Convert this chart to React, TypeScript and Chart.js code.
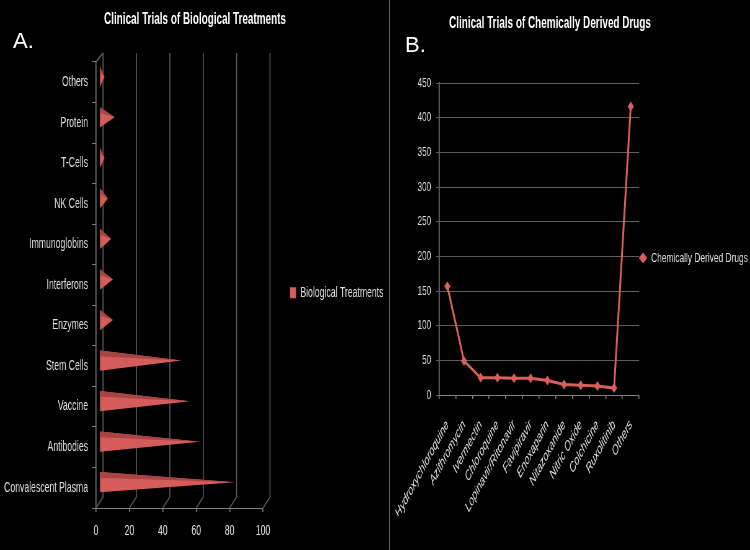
import React, { useEffect, useRef } from 'react';
import { Chart, registerables } from 'chart.js';

Chart.register(...registerables);

// ---------- data ----------
const bioCategories = [
  'Convalescent Plasma',
  'Antibodies',
  'Vaccine',
  'Stem Cells',
  'Enzymes',
  'Interferons',
  'Immunoglobins',
  'NK Cells',
  'T-Cells',
  'Protein',
  'Others',
];
const bioValues = [81, 60, 54, 49, 8, 8, 7, 5, 3, 9, 3];
const bioTicks = [0, 20, 40, 60, 80, 100];

const drugCategories = [
  'Hydroxychloroquine',
  'Azithromycin',
  'Ivermectin',
  'Chloroquine',
  'Lopinavir/Ritonavir',
  'Favipiravir',
  'Enoxaparin',
  'Nitazoxanide',
  'Nitric Oxide',
  'Colchicine',
  'Ruxolitinib',
  'Others',
];
const drugValues = [157, 49, 25, 25, 24, 24, 21, 15, 14, 13, 10, 416];
const drugTicks = [0, 50, 100, 150, 200, 250, 300, 350, 400, 450];

// ---------- style ----------
// The original figure is horizontally compressed; each canvas is drawn wider
// internally and displayed at SQ of its width.
const SQ = 0.62;
const h = (pagePx: number) => pagePx / SQ; // page px -> internal px (horizontal)

const FONT = "'Liberation Sans', Arial, sans-serif";
const TEXT = '#e0e0e0';
const AXIS = '#808080';
const GRID = '#5e5e5e';
const CONE_LIGHT = '#d65c5c';
const CONE_DARK = '#a84444';
const LINE = '#d95f5b';
const VLW = 1.6; // vertical line width (internal) ~ 1 page px
const DX = h(7);
const DY = 11;
const TOPY = 9;

const LEFT_W = 390;
const RIGHT_LEFT = 350;
const RIGHT_W = 400;

const legendWidthPlugin = {
  id: 'legendWidth',
  beforeLayout(chart: any, _args: any, opts: any) {
    const lg = chart.legend;
    if (!lg || lg.__fixedWidth || !opts || !opts.width) return;
    const fit = lg.fit.bind(lg);
    lg.fit = () => {
      fit();
      lg.width = opts.width;
    };
    lg.__fixedWidth = true;
  },
};

const wallPlugin = {
  id: 'wall3d',
  beforeDatasetsDraw(chart: any) {
    const { ctx, chartArea } = chart;
    const { top, bottom } = chartArea;
    const xs = chart.scales.x;
    ctx.save();
    ctx.strokeStyle = GRID;
    ctx.lineWidth = VLW;
    xs.ticks.forEach((t: any) => {
      const px = xs.getPixelForValue(t.value);
      ctx.beginPath();
      ctx.moveTo(px + DX, top - TOPY);
      ctx.lineTo(px + DX, bottom - DY);
      ctx.lineTo(px, bottom);
      ctx.stroke();
    });
    const p0 = xs.getPixelForValue(xs.min);
    ctx.beginPath();
    ctx.moveTo(p0, top);
    ctx.lineTo(p0 + DX, top - TOPY);
    ctx.stroke();
    ctx.restore();
  },
};

const conePlugin = {
  id: 'cones',
  beforeDatasetDraw(chart: any, args: any) {
    const ctx = chart.ctx;
    ctx.save();
    args.meta.data.forEach((el: any) => {
      const { x, y, base, height } = el.getProps(['x', 'y', 'base', 'height'], true);
      const bh = Math.abs(height);
      const bx = base + DX / 2;
      const tx = x + DX / 2;
      const cy = y - DY / 2;
      ctx.beginPath();
      ctx.moveTo(bx, cy - bh / 2);
      ctx.lineTo(tx, cy);
      ctx.lineTo(bx, cy + bh / 2);
      ctx.closePath();
      ctx.fillStyle = CONE_LIGHT;
      ctx.fill();
      ctx.beginPath();
      ctx.moveTo(bx, cy - bh / 2);
      ctx.lineTo(tx, cy);
      ctx.lineTo(bx, cy - bh / 2 + bh * 0.28);
      ctx.closePath();
      ctx.fillStyle = CONE_DARK;
      ctx.fill();
    });
    ctx.restore();
    return false;
  },
};

function BioChart() {
  const ref = useRef<HTMLCanvasElement | null>(null);
  const W = Math.round(h(LEFT_W));
  useEffect(() => {
    if (!ref.current) return;
    const areaLeft = h(96);
    const areaRight = h(263);
    const chart = new Chart(ref.current, {
      type: 'bar',
      data: {
        labels: bioCategories,
        datasets: [
          {
            label: 'Biological Treatments',
            data: bioValues,
            backgroundColor: CONE_LIGHT,
            borderWidth: 0,
            barPercentage: 0.5,
            categoryPercentage: 1,
          },
        ],
      },
      options: {
        responsive: false,
        animation: false,
        indexAxis: 'y',
        layout: { padding: 0 },
        plugins: {
          legendWidth: { width: W - areaRight },
          title: {
            display: true,
            text: 'Clinical Trials of Biological Treatments',
            color: '#ffffff',
            font: { family: FONT, size: 16, weight: 'bold' },
            padding: { top: 10, bottom: 32.8 },
          },
          legend: {
            position: 'right',
            fullSize: false,
            title: { display: true, text: '', padding: 0, font: { size: 13 } },
            labels: {
              color: TEXT,
              font: { family: FONT, size: 14 },
              boxWidth: h(6),
              boxHeight: 11,
              padding: h(290 - 263),
            },
          },
          tooltip: { enabled: false },
        },
        scales: {
          x: {
            type: 'linear',
            min: bioTicks[0],
            max: bioTicks[bioTicks.length - 1],
            ticks: {
              stepSize: bioTicks[1] - bioTicks[0],
              color: TEXT,
              font: { family: FONT, size: 14 },
              padding: 11,
            },
            grid: { drawOnChartArea: false, tickLength: 4, color: AXIS, lineWidth: VLW },
            border: { color: AXIS },
            afterFit: (s: any) => {
              s.height = 42;
            },
          },
          y: {
            reverse: true,
            ticks: { color: TEXT, font: { family: FONT, size: 14 }, padding: h(4) },
            grid: { drawOnChartArea: false, tickLength: h(4), color: AXIS },
            border: { color: AXIS, width: VLW },
            afterFit: (s: any) => {
              s.width = areaLeft;
            },
          },
        },
      },
      plugins: [legendWidthPlugin, wallPlugin, conePlugin],
    } as any);
    return () => chart.destroy();
  }, []);
  return (
    <canvas
      ref={ref}
      width={W}
      height={550}
      style={{ position: 'absolute', left: 0, top: 0, width: LEFT_W, height: 550 }}
    />
  );
}

function DrugChart() {
  const ref = useRef<HTMLCanvasElement | null>(null);
  const W = Math.round(h(RIGHT_W));
  useEffect(() => {
    if (!ref.current) return;
    const areaLeft = h(439 - RIGHT_LEFT);
    const areaRight = h(639 - RIGHT_LEFT);
    const chart = new Chart(ref.current, {
      type: 'line',
      data: {
        labels: drugCategories,
        datasets: [
          {
            label: 'Chemically Derived Drugs',
            data: drugValues,
            borderColor: LINE,
            backgroundColor: LINE,
            borderWidth: 3,
            pointStyle: 'rectRot',
            pointRadius: 4.5,
            pointBorderWidth: 1,
            tension: 0,
          },
        ],
      },
      options: {
        responsive: false,
        animation: false,
        layout: { padding: { top: 0, bottom: 34, left: 0, right: 0 } },
        plugins: {
          legendWidth: { width: W - areaRight },
          title: {
            display: true,
            text: 'Clinical Trials of Chemically Derived Drugs',
            color: '#ffffff',
            font: { family: FONT, size: 16, weight: 'bold' },
            padding: { top: 14.4, bottom: 49.4 },
          },
          legend: {
            position: 'right',
            labels: {
              color: TEXT,
              font: { family: FONT, size: 13.5 },
              usePointStyle: true,
              pointStyleWidth: h(12) - 6.75,
              boxHeight: 7,
              padding: 0,
            },
          },
          tooltip: { enabled: false },
        },
        scales: {
          x: {
            offset: true,
            grid: { offset: true, drawOnChartArea: false, tickLength: 4, color: AXIS, lineWidth: VLW },
            border: { color: AXIS },
            ticks: {
              autoSkip: false,
              minRotation: 49,
              maxRotation: 49,
              color: TEXT,
              font: { family: FONT, size: 14, style: 'italic' },
              padding: 18,
            },
            afterFit: (s: any) => {
              s.height = 121;
            },
          },
          y: {
            min: drugTicks[0],
            max: drugTicks[drugTicks.length - 1],
            ticks: {
              stepSize: drugTicks[1] - drugTicks[0],
              color: TEXT,
              font: { family: FONT, size: 13 },
              padding: h(5),
            },
            grid: { color: GRID, tickLength: h(3) },
            border: { color: AXIS, width: VLW },
            afterFit: (s: any) => {
              s.width = areaLeft;
            },
          },
        },
      },
      plugins: [legendWidthPlugin],
    } as any);
    return () => chart.destroy();
  }, []);
  return (
    <canvas
      ref={ref}
      width={W}
      height={550}
      style={{ position: 'absolute', left: RIGHT_LEFT, top: 0, width: RIGHT_W, height: 550 }}
    />
  );
}

export default function App() {
  useEffect(() => {
    document.body.style.margin = '0';
    document.body.style.background = '#000';
  }, []);
  const panelLabel: React.CSSProperties = {
    position: 'absolute',
    color: '#ffffff',
    fontFamily: "'Liberation Sans', Arial, sans-serif",
    fontSize: 22,
    lineHeight: '22px',
    zIndex: 3,
  };
  return (
    <div style={{ position: 'relative', width: 750, height: 550, background: '#000', overflow: 'hidden' }}>
      <BioChart />
      <DrugChart />
      <div style={{ position: 'absolute', left: 389, top: 0, width: 1, height: 550, background: '#5a5a5a', zIndex: 2 }} />
      <div style={{ ...panelLabel, left: 13, top: 30 }}>A.</div>
      <div style={{ ...panelLabel, left: 405, top: 34 }}>B.</div>
    </div>
  );
}
